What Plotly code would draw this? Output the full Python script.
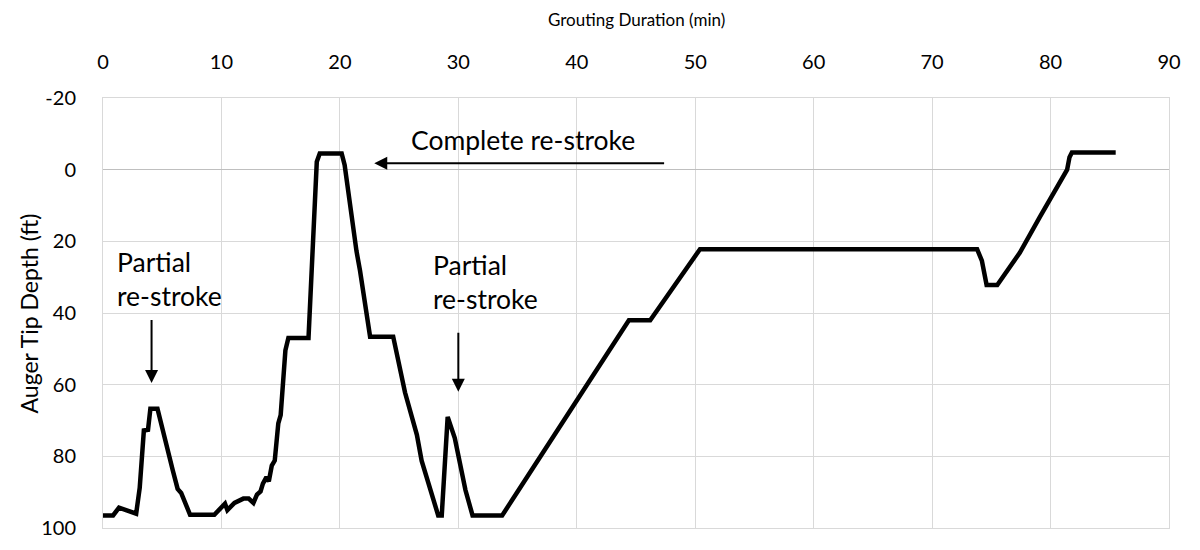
import plotly.graph_objects as go

# Grouting record: elapsed time (min) vs auger tip depth (ft)
time_min = [0, 0.85, 1.35, 2.8, 3.1, 3.45, 3.8, 4.0, 4.6, 5.2, 5.6, 5.9, 6.3, 6.6,
            7.35, 9.4, 10.3, 10.5, 11.1, 11.85, 12.3, 12.7, 13.0, 13.3, 13.5, 13.8,
            14.0, 14.25, 14.5, 14.8, 15.0, 15.2, 15.4, 15.65, 17.35, 18.05, 18.3,
            20.15, 20.4, 21.4, 21.7, 22.55, 24.5, 25.5, 26.1, 26.5, 26.9, 27.3,
            27.9, 28.3, 28.6, 29.1, 29.7, 30.15, 30.6, 31.2, 33.7, 44.4, 46.2,
            50.4, 73.8, 74.2, 74.6, 75.5, 77.4, 79.1, 81.4, 81.6, 81.8, 85.5]
depth_ft = [96.5, 96.5, 94.3, 96.0, 88.8, 72.8, 72.6, 66.7, 66.7, 75.2, 79.9, 84.0,
            89.1, 90.2, 96.3, 96.3, 93.2, 95.0, 93.0, 91.8, 91.8, 93.0, 90.7, 89.8,
            87.6, 85.8, 87.0, 82.6, 81.2, 70.8, 68.5, 58.0, 50.4, 47.0, 47.0, -2.2,
            -4.5, -4.5, -1.3, 22.7, 28.2, 46.6, 46.6, 62.2, 69.0, 74.0, 81.2, 85.8,
            93.0, 96.5, 96.5, 69.0, 74.9, 82.1, 89.4, 96.5, 96.5, 42.0, 42.0, 22.2,
            22.2, 25.4, 32.2, 32.2, 23.2, 13.2, 0.0, -3.5, -4.8, -4.8]

x_ticks = [0, 10, 20, 30, 40, 50, 60, 70, 80, 90]
y_ticks = [-20, 0, 20, 40, 60, 80, 100]
y_tick_text = ["-20", "0", "20", "40", "60", "80", "100"]

FONT = "Lato"
GRID = "#d9d9d9"

fig = go.Figure()
fig.add_trace(go.Scatter(
    x=time_min, y=depth_ft, mode="lines",
    line=dict(color="black", width=4.5), showlegend=False, hoverinfo="skip",
))

annos = [
    # axis titles
    dict(text="Grouting Duration (min)", xref="paper", yref="paper",
         x=0.5, y=1.183, xanchor="center", yanchor="middle",
         showarrow=False, font=dict(size=17)),
    dict(text="Auger Tip Depth (ft)", xref="paper", yref="paper",
         x=-0.069, y=0.5, xanchor="center", yanchor="middle", textangle=-90,
         showarrow=False, font=dict(size=23)),
    # callout labels
    dict(text="Complete re-stroke", x=35.5, y=-8.3, xref="x", yref="y",
         showarrow=False, font=dict(size=26.5)),
    dict(text="Partial<br>re-stroke", x=1.0, y=30.6, xref="x", yref="y",
         showarrow=False, align="left", xanchor="left", yanchor="middle",
         font=dict(size=26.5)),
    dict(text="Partial<br>re-stroke", x=27.7, y=31.4, xref="x", yref="y",
         showarrow=False, align="left", xanchor="left", yanchor="middle",
         font=dict(size=26.5)),
    # arrows
    dict(x=4.1, y=59.5, ax=4.1, ay=41.5, xref="x", yref="y", axref="x", ayref="y",
         text="", showarrow=True, arrowhead=2, arrowsize=1.3, arrowwidth=2,
         arrowcolor="black"),
    dict(x=30.0, y=62.0, ax=30.0, ay=45.1, xref="x", yref="y", axref="x", ayref="y",
         text="", showarrow=True, arrowhead=2, arrowsize=1.3, arrowwidth=2,
         arrowcolor="black"),
    dict(x=22.9, y=-1.8, ax=47.5, ay=-1.8, xref="x", yref="y", axref="x", ayref="y",
         text="", showarrow=True, arrowhead=2, arrowsize=1.3, arrowwidth=2,
         arrowcolor="black"),
]

fig.update_layout(
    width=1200, height=550,
    margin=dict(l=103, r=31, t=98, b=11),
    paper_bgcolor="white", plot_bgcolor="white",
    font=dict(family=FONT, size=20, color="#000000"),
    annotations=annos,
    xaxis=dict(
        side="top", range=[0, 90], tickvals=x_ticks,
        showgrid=True, gridcolor=GRID, gridwidth=1,
        showline=True, linecolor=GRID, linewidth=1, mirror=True,
        zeroline=False, ticks="", ticklabelstandoff=20,
        tickfont=dict(size=20),
    ),
    yaxis=dict(
        range=[100, -20], tickvals=y_ticks, ticktext=y_tick_text,
        showgrid=True, gridcolor=GRID, gridwidth=1,
        showline=True, linecolor=GRID, linewidth=1, mirror=True,
        zeroline=True, zerolinecolor="#bfbfbf", zerolinewidth=1,
        ticks="", ticklabelstandoff=22,
        tickfont=dict(size=20),
    ),
)

fig.write_html("out.html")
